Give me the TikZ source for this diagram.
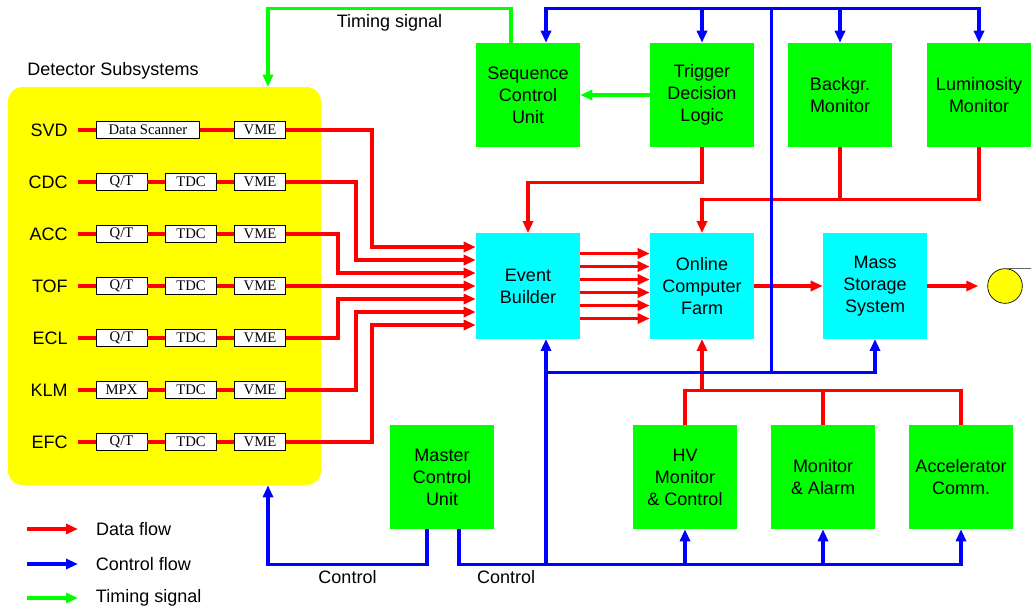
\documentclass[tikz,border=0pt]{standalone}
\usepackage{fontspec}
\setmainfont{Liberation Sans}
\newfontfamily\chipfont{Liberation Serif}
\usepackage{xcolor}
\usetikzlibrary{arrows.meta,positioning,calc}
\definecolor{dqred}{HTML}{FF0000}
\definecolor{dqblue}{HTML}{0000FF}
\definecolor{dqgreen}{HTML}{00FF00}
\definecolor{dqcyan}{HTML}{00FFFF}
\definecolor{dqyellow}{HTML}{FFFF00}
\newcommand{\QT}{Q/T}

\begin{document}
\begin{tikzpicture}[
  x=0.75pt,y=-0.75pt,
  every node/.style={font=\fontsize{13.5}{16.5}\selectfont,align=center},
  unit/.style={minimum width=78pt,minimum height=78pt,inner sep=1pt},
  ctrlunit/.style={unit,fill=dqgreen},
  dataunit/.style={unit,fill=dqcyan,minimum height=79pt},
  chip/.style={draw=black,line width=0.6pt,fill=white,minimum width=38.25pt,minimum height=12.75pt,inner sep=0pt,font=\chipfont\fontsize{11}{12}\selectfont},
  rowlabel/.style={anchor=east,inner xsep=7.5pt},
  head/.style={-{Triangle[length=9pt,width=7.5pt]}},
  link/.style={draw=dqred,line width=2.4pt},
  thinlink/.style={draw=dqred,line width=2.3pt},
  dataflow/.style={link,head},
  thinflow/.style={thinlink,head},
  ctrlline/.style={draw=dqblue,line width=2.3pt},
  ctrlflow/.style={ctrlline,head},
  timeflow/.style={draw=dqgreen,line width=2.3pt,head}
]
\useasboundingbox (0,0) rectangle (1031,615);

% detector subsystems
\node[fill=dqyellow,rounded corners=11pt,minimum width=234.75pt,minimum height=298.5pt] (det) at (164.5,286) {};
\node (dettitle) at (113,71) {Detector Subsystems};

\node[rowlabel] (lbl1) at (78,130) {SVD};
\node[chip,minimum width=77.25pt,anchor=west] (fe1) at (96,130) {Data Scanner};
\node[chip] (vme1) at (260,130) {VME};
\draw[link] (lbl1.east) -- (fe1.west);
\draw[link] (fe1.east) -- (vme1.west);

\foreach \i/\nm/\fe in {2/CDC/\QT,3/ACC/\QT,4/TOF/\QT,5/ECL/\QT,6/KLM/MPX,7/EFC/\QT}{
  \node[rowlabel] (lbl\i) at (78,{130+52*(\i-1)}) {\nm};
  \node[chip] (fe\i) at (121.5,{130+52*(\i-1)}) {\fe};
  \node[chip] (tdc\i) at (191,{130+52*(\i-1)}) {TDC};
  \node[chip] (vme\i) at (260,{130+52*(\i-1)}) {VME};
  \draw[link] (lbl\i.east) -- (fe\i.west);
  \draw[link] (fe\i.east) -- (tdc\i.west);
  \draw[link] (tdc\i.east) -- (vme\i.west);
}

% main units
\node[ctrlunit] (seq) at (528,95) {Sequence\\Control\\Unit};
\node[ctrlunit] (trig) at (702,95) {Trigger\\Decision\\Logic};
\node[ctrlunit] (bkg) at (840,95) {Backgr.\\Monitor};
\node[ctrlunit] (lum) at (979,95) {Luminosity\\Monitor};
\node[dataunit] (evb) at (528,286) {Event\\Builder};
\node[dataunit] (farm) at (702,286) {Online\\Computer\\Farm};
\node[dataunit] (mss) at (875,286) {Mass\\Storage\\System};
\node[ctrlunit] (mcu) at (442,477) {Master\\Control\\Unit};
\node[ctrlunit] (hv) at (685,477) {HV\\Monitor\\\& Control};
\node[ctrlunit] (alarm) at (823,477) {Monitor\\\& Alarm};
\node[ctrlunit] (accel) at (961,477) {Accelerator\\Comm.};
\node[circle,draw=black,line width=0.5pt,fill=dqyellow,minimum size=26pt,inner sep=0pt] (tape) at (1005,286) {};
\draw[gray!80!black,line width=0.9pt] (tape.north) -- ++(26,0);

% data flow
\foreach \i/\dx in {1/86,2/70,3/52,4/52,5/52,6/70,7/86}
  \draw[dataflow] (vme\i.east) -- ++(\dx,0) |- ($(evb.west)+(0,{(\i-4)*13})$);
\foreach \o in {-32.5,-19.5,-6.5,6.5,19.5,32.5}
  \draw[dataflow] ($(evb.east)+(0,\o)$) -- ($(farm.west)+(0,\o)$);
\draw[dataflow] (farm.east) -- (mss.west);
\draw[dataflow,shorten >=6.75pt] (mss.east) -- (tape.west);
\draw[dataflow] (trig.south) -- ++(0,35) -| (evb.north);
\draw[thinlink] (bkg.south) -- ++(0,52);
\draw[thinflow] (lum.south) -- ++(0,52) -| (farm.north);
\coordinate (rbus) at ($(farm.south)+(0,52)$);
\draw[dataflow] (rbus) -- (farm.south);
\draw[thinlink] (hv.north) |- (rbus -| accel.north) -- (accel.north);
\draw[thinlink] (alarm.north) -- (alarm.north |- rbus);

% control flow
\coordinate (tbus) at ($(seq.north)+(0,-34)$);
\coordinate (seqin) at ($(seq.north)+(18,0)$);
\draw[ctrlflow] (tbus -| lum.north) -| (seqin);
\draw[ctrlflow] (tbus -| seqin) -| (lum.north);
\draw[ctrlflow] (tbus -| trig.north) -- (trig.north);
\draw[ctrlflow] (tbus -| bkg.north) -- (bkg.north);
\coordinate (spine) at ($(farm.east)!0.25!(mss.west)$);
\coordinate (mbus) at ($(evb.south)+(18,34)$);
\draw[ctrlline] (tbus -| spine) -- (mbus -| spine);
\draw[ctrlflow] (mbus) -| (mss.south);
\coordinate (evbin) at ($(evb.south)+(18,0)$);
\coordinate (bbus) at ($(mcu.south)+(17,35)$);
\draw[ctrlflow] (bbus -| evbin) -- (evbin);
\draw[ctrlflow] ($(mcu.south)+(17,0)$) -- (bbus) -| node[pos=0.047,below] (ctrlR) {Control} (accel.south);
\draw[ctrlflow] (bbus -| hv.south) -- (hv.south);
\draw[ctrlflow] (bbus -| alarm.south) -- (alarm.south);
\coordinate (detout) at ($(det.south)+(103.5,0)$);
\draw[ctrlflow] ($(mcu.south)+(-15,0)$) -- ++(0,35) -| node[pos=0.25,below] (ctrlL) {Control} (detout);

% timing signal
\coordinate (detin) at ($(det.north)+(103.5,0)$);
\draw[timeflow] (trig.west) -- (seq.east);
\draw[timeflow] ($(seq.north)+(-17,0)$) -- ($(seq.north)+(-17,-34)$) -| node[pos=0.25,below] (timelbl) {Timing signal} (detin);

% legend
\coordinate (lg1) at (27,529);
\coordinate (lg2) at (27,564);
\coordinate (lg3) at (27,598);
\draw[dataflow] (lg1) -- ++(51,0) node[right=9pt] (lgt1) {Data flow};
\draw[ctrlflow] (lg2) -- ++(51,0) node[right=9pt] (lgt2) {Control flow};
\draw[timeflow] (lg3) -- ++(51,0) node[right=9pt] (lgt3) {Timing signal};
\end{tikzpicture}
\end{document}
